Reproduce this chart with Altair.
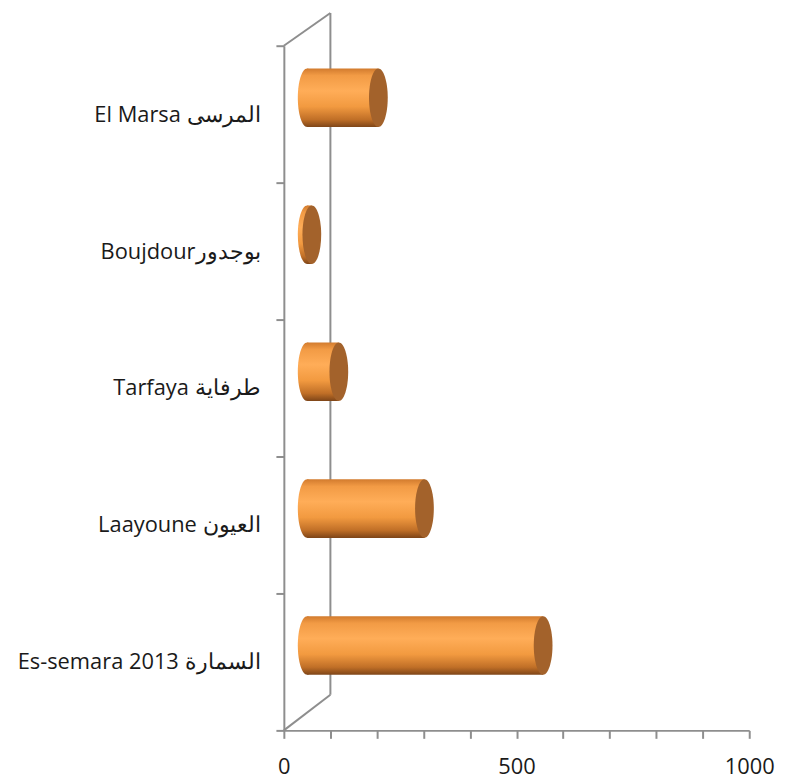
import altair as alt
import pandas as pd

categories = ["El Marsa المرسى", "Boujdourبوجدور", "Tarfaya  طرفاية", "Laayoune العيون", "Es-semara 2013  السمارة"]
values = [153, 10, 68, 252, 507]
x_ticks = list(range(0, 1001, 100))

df = pd.DataFrame({"cat": categories, "value": values})

FONT = "Open Sans"
GRAY = "#8e8e8e"
BAR_H = 59
DX, DY = 23.5, -16.5
ELLIPSE = "M0,-1 A0.32,1 0 1,1 0,1 A0.32,1 0 1,1 0,-1 Z"

grad = alt.Gradient(
    gradient="linear", x1=0, y1=0, x2=0, y2=1,
    stops=[
        alt.GradientStop(color="#d27b2e", offset=0),
        alt.GradientStop(color="#f29b45", offset=0.12),
        alt.GradientStop(color="#ffad58", offset=0.38),
        alt.GradientStop(color="#f29a40", offset=0.65),
        alt.GradientStop(color="#c06f27", offset=0.87),
        alt.GradientStop(color="#7e4518", offset=1),
    ],
)

xscale = alt.Scale(domain=[0, 1000], nice=False, zero=True)
yscale = alt.Scale(paddingInner=0, paddingOuter=0)

yaxis = alt.Axis(
    title=None, domain=True, domainColor=GRAY, domainWidth=2,
    ticks=True, tickBand="extent", tickColor=GRAY, tickWidth=2, tickSize=8,
    labelFont=FONT, labelFontSize=22, labelColor="#1a1a1a", labelPadding=16,
    grid=False, labelLimit=400,
)
xaxis = alt.Axis(
    title=None, values=x_ticks, format="d", domain=True, domainColor=GRAY, domainWidth=2,
    ticks=True, tickColor=GRAY, tickWidth=2, tickSize=8,
    labelExpr="datum.value % 500 === 0 ? datum.label : ''",
    labelFont=FONT, labelFontSize=22, labelColor="#1a1a1a", labelPadding=18,
    grid=False, labelFlush=False,
)

X = lambda: alt.X("value:Q", scale=xscale, axis=xaxis)
Y = lambda: alt.Y("cat:N", sort=categories, scale=yscale, axis=yaxis)

base = alt.Chart(df)
first = base.transform_filter(alt.datum.cat == categories[0])

back_wall = first.mark_rule(color=GRAY, strokeWidth=2).encode(
    x=alt.XDatum(100, scale=xscale, axis=xaxis), y=alt.value(-33), y2=alt.value(654)
)
top_diag = first.mark_rule(color=GRAY, strokeWidth=2).encode(
    x=alt.XDatum(0, scale=xscale, axis=xaxis), x2=alt.X2Datum(100), y=alt.value(0), y2=alt.value(-33)
)
bot_diag = first.mark_rule(color=GRAY, strokeWidth=2).encode(
    x=alt.XDatum(0, scale=xscale, axis=xaxis), x2=alt.X2Datum(100), y=alt.value(690), y2=alt.value(654)
)

bars = base.mark_bar(color=grad, size=BAR_H, xOffset=DX, yOffset=DY).encode(x=X(), y=Y())
base_cap = base.mark_point(
    shape=ELLIPSE, size=BAR_H * BAR_H, filled=True, color=grad, opacity=1,
    strokeWidth=0, xOffset=DX, yOffset=DY,
).encode(x=alt.XDatum(0, scale=xscale, axis=xaxis), y=Y())
end_cap = base.mark_point(
    shape=ELLIPSE, size=BAR_H * BAR_H, filled=True, color="#a3622b", opacity=1,
    strokeWidth=0, xOffset=DX, yOffset=DY,
).encode(x=X(), y=Y())

chart = alt.layer(back_wall, top_diag, bot_diag, bars, base_cap, end_cap).properties(
    width=469, height=690,
    autosize=alt.AutoSizeParams(type="none"),
    padding={"left": 278, "top": 35, "right": 30, "bottom": 48},
).configure_view(stroke=None)

chart.save("out.html", embed_options={"renderer": "svg", "actions": False})
